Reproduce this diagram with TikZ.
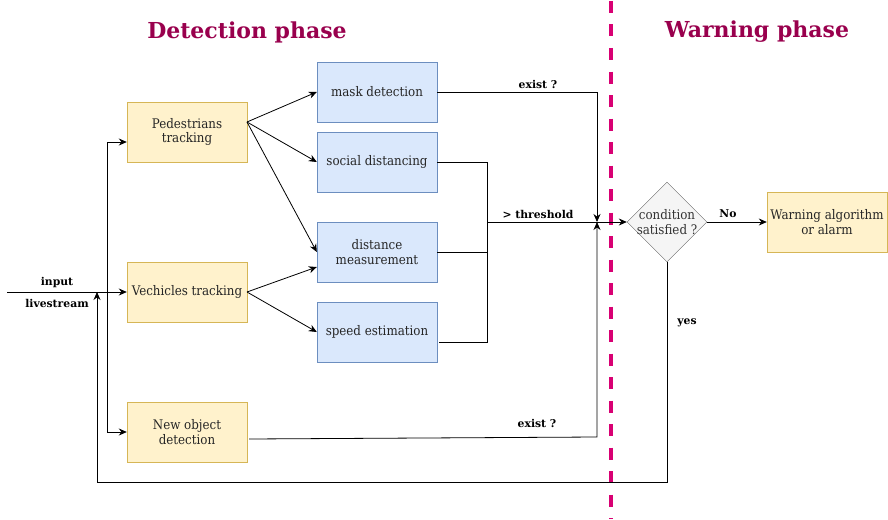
\documentclass[tikz,border=0pt]{standalone}
\usepackage{fontspec}
\setmainfont{DejaVu Serif}
\newfontfamily\condserif{DejaVu Serif Condensed}
\usetikzlibrary{arrows.meta,shapes.geometric}
\definecolor{titlecol}{HTML}{99004D}
\definecolor{dashcol}{HTML}{D80073}
\definecolor{yfill}{HTML}{FFF2CC}
\definecolor{ydraw}{HTML}{D6B656}
\definecolor{bfill}{HTML}{DAE8FC}
\definecolor{bdraw}{HTML}{6C8EBF}
\definecolor{gfill}{HTML}{F5F5F5}
\definecolor{gdraw}{HTML}{666666}
\definecolor{gtext}{HTML}{333333}
\tikzset{
  boxfont/.style={font=\condserif\fontsize{13.2}{14.5}\selectfont},
  ybox/.style={draw=ydraw,fill=yfill,minimum width=120pt,minimum height=60pt,inner sep=1pt,align=center,boxfont,text=black!85},
  bbox/.style={draw=bdraw,fill=bfill,minimum width=120pt,minimum height=60pt,inner sep=1pt,align=center,boxfont,text=black!85},
  cond/.style={diamond,draw=gdraw,fill=gfill,minimum width=80pt,minimum height=80pt,aspect=1,inner sep=0pt},
  condtext/.style={align=center,boxfont,text=gtext,inner sep=0pt},
  lbl/.style={font=\bfseries\fontsize{10.8}{12}\selectfont,inner sep=0pt},
  ttl/.style={font=\bfseries\fontsize{22}{26}\selectfont,text=titlecol},
  conn/.style={draw=black,line width=0.8pt},
  arr/.style={conn,-{Stealth[length=8pt,width=7pt]}},
}
\begin{document}
\begin{tikzpicture}[x=1pt,y=-1pt]
\useasboundingbox (0,0) rectangle (888,519);
% titles
\node[ttl] (t1) at (247,32) {Detection phase};
\node[ttl] (t2) at (757,32) {Warning phase};
% dashed divider
\coordinate (dTop) at (611,1);
\coordinate (dBot) at (611,519);
\draw[dashcol,line width=3.5pt,dash pattern=on 12pt off 11.5pt] (dTop) -- (dBot);
% boxes
\node[ybox] (ped) at (187,132) {Pedestrians\\tracking};
\node[ybox] (veh) at (187,292) {Vechicles tracking};
\node[ybox] (new) at (187,432) {New object\\detection};
\node[bbox] (mask) at (377,92) {mask detection};
\node[bbox] (soc) at (377,162) {social distancing};
\node[bbox] (dist) at (377,252) {distance\\measurement};
\node[bbox] (speed) at (377,332) {speed estimation};
\node[cond] (cond) at (667,222) {};
\node[condtext] (condt) at (cond.center) {condition\\satisfied ?};
\node[ybox] (warn) at (827,222) {Warning algorithm\\or alarm};
% input
\coordinate (in) at (7,292);
\draw[arr] (in) -- (veh.west);
\node[lbl] (linput) at (57,283) {input};
\node[lbl] (llive) at (57,303) {livestream};
\coordinate (br) at (107,292);
\draw[arr] (br) |- (ped.west |- 0,142);
\draw[arr] (br) |- (new.west);
% tracking to analysis
\coordinate (pedO) at (247,122);
\draw[arr] (pedO) -- (mask.west);
\draw[arr] (pedO) -- (soc.west);
\draw[arr] (pedO) -- (dist.west);
\coordinate (vehO) at (247,292);
\draw[arr] (vehO) -- (dist.west |- 0,267);
\draw[arr] (vehO) -- (speed.west);
% merge
\coordinate (join) at (597,222);
\draw[arr] (mask.east) -| (join);
\node[lbl] (lex1) at (538,84) {exist ?};
\coordinate (bus) at (487,222);
\coordinate (speedO) at (439,342);
\draw[conn] (soc.east) -| (487,342) -- (speedO);
\draw[conn] (dist.east) -- (487,252);
\draw[arr] (bus) -- (cond.west);
\node[lbl] (lthr) at (538,214) {> threshold};
\coordinate (newO) at (249,439);
\draw[arr] (newO) -- (597,437) -- (join);
\node[lbl] (lex2) at (537,423) {exist ?};
% decisions
\draw[arr] (cond.east) -- (warn.west);
\node[lbl] (lno) at (728,214) {No};
\coordinate (loopA) at (667,482);
\coordinate (loopB) at (97,482);
\draw[arr] (cond.south) -- (loopA) -- (loopB) -- (97,292);
\node[lbl] (lyes) at (687,323) {yes};
\end{tikzpicture}
\end{document}
